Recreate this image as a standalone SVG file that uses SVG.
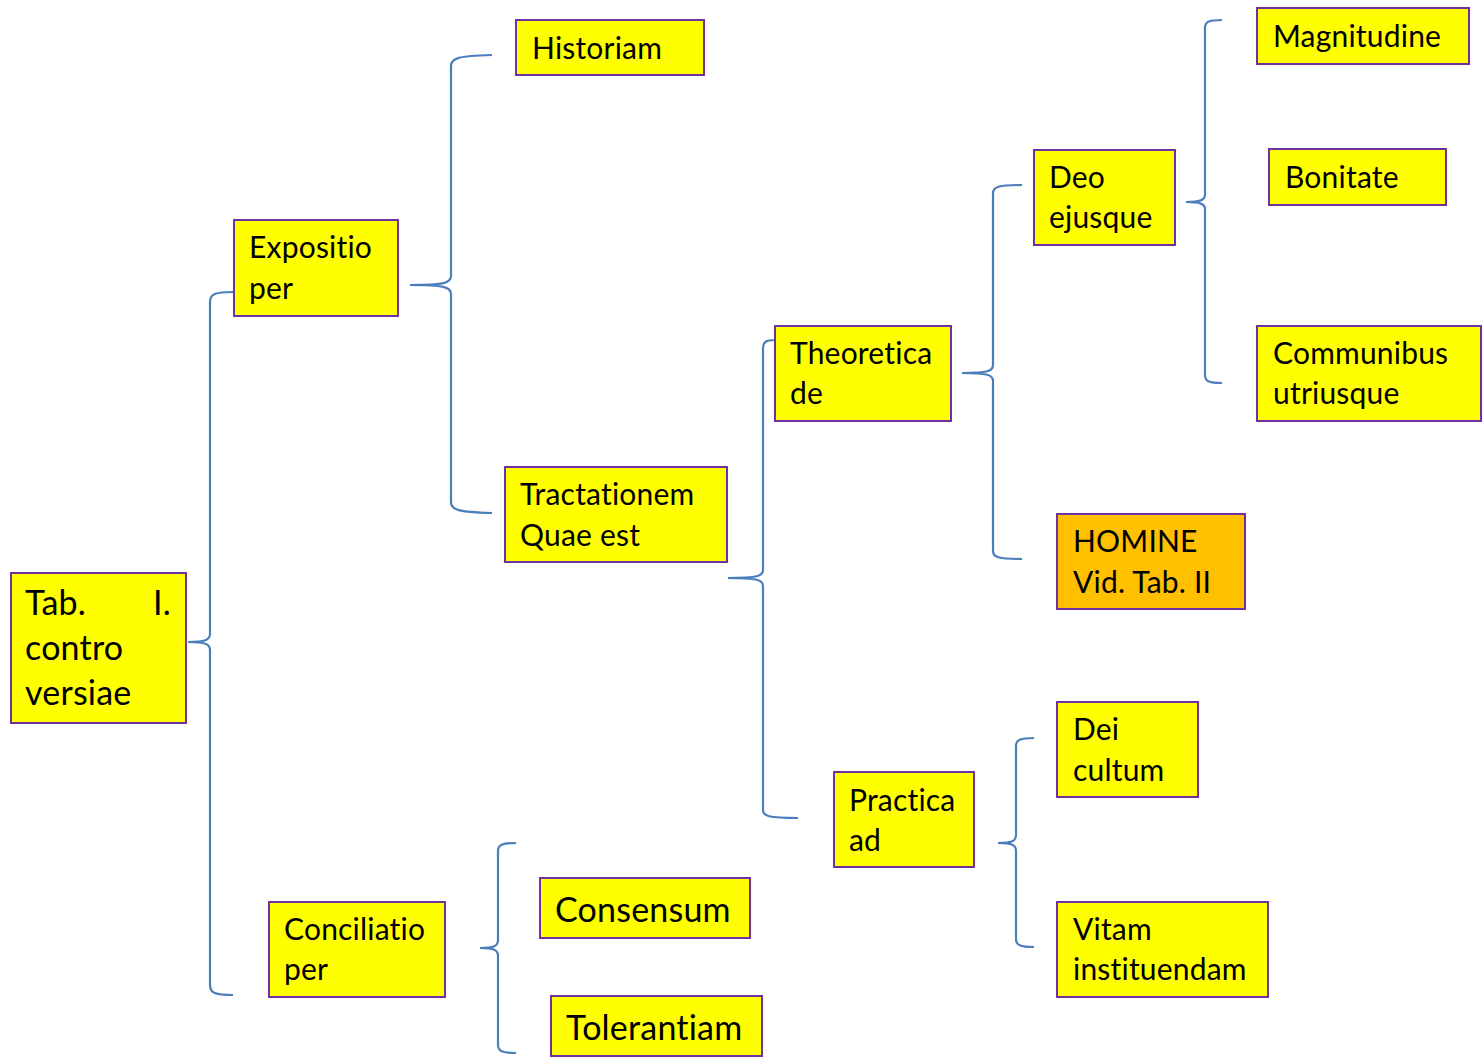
<svg xmlns="http://www.w3.org/2000/svg" width="1483" height="1064" viewBox="0 0 1483 1064">
<style>
.box{fill:#FFFF00;stroke:#7030A0;stroke-width:2}
.org{fill:#FFC000;stroke:#7030A0;stroke-width:2}
text{font-family:Lato,"Open Sans","Liberation Sans",sans-serif;font-size:30px;fill:#000;font-variant-ligatures:none;font-feature-settings:"liga" 0,"dlig" 0,"clig" 0;letter-spacing:0.2px}
.big{font-size:34px}
.brace{fill:none;stroke:#4A7EBB;stroke-width:2.2}
</style>
<rect width="1483" height="1064" fill="#fff"/>
<g id="connectors">
<path class="brace" d="M233,292 C215,292 210,294 210,302 L210,634 C210,640 205,642 188,642 C205,642 210,644 210,650 L210,985 C210,993 215,995 233,995"/>
<path class="brace" d="M492,55 C458,56 451,58 451,66 L451,276 C451,283 444,285 410,285 C444,285 451,287 451,294 L451,502 C451,510 458,512 492,513"/>
<path class="brace" d="M775,340 C766,340 763,342 763,348 L763,570 C763,576 758,578 728,578 C758,578 763,580 763,586 L763,810 C763,816 768,818 798,818"/>
<path class="brace" d="M1022,185 C998,185 993,187 993,193 L993,365 C993,371 988,373 962,373 C988,373 993,375 993,381 L993,551 C993,557 998,559 1022,559"/>
<path class="brace" d="M1222,20 C1208,20 1205,22 1205,28 L1205,195 C1205,200 1200,202 1186,202 C1200,202 1205,204 1205,209 L1205,375 C1205,381 1208,383 1222,383"/>
<path class="brace" d="M1034,738 C1020,738 1016,740 1016,746 L1016,835 C1016,841 1012,843 998,843 C1012,843 1016,845 1016,851 L1016,939 C1016,945 1020,947 1034,947"/>
<path class="brace" d="M516,843 C502,843 498,845 498,851 L498,940 C498,946 494,948 480,948 C494,948 498,950 498,956 L498,1045 C498,1051 502,1053 516,1053"/>
</g>
<g id="n-tab">
<rect class="box" x="11" y="573" width="175" height="150"/>
<text class="big" x="25" y="615">Tab.</text>
<text class="big" x="171" y="615" text-anchor="end">I.</text>
<text class="big" x="25" y="660">contro</text>
<text class="big" x="25" y="705">versiae</text>
</g>
<g id="n-expositio">
<rect class="box" x="234" y="220" width="164" height="96"/>
<text x="249" y="258">Expositio</text>
<text x="249" y="299">per</text>
</g>
<g id="n-historiam">
<rect class="box" x="516" y="20" width="188" height="55"/>
<text x="532" y="59">Historiam</text>
</g>
<g id="n-tractationem">
<rect class="box" x="505" y="467" width="222" height="95"/>
<text x="520" y="505">Tractationem</text>
<text x="520" y="546">Quae est</text>
</g>
<g id="n-theoretica">
<rect class="box" x="775" y="326" width="176" height="95"/>
<text x="790" y="364">Theoretica</text>
<text x="790" y="404">de</text>
</g>
<g id="n-deo">
<rect class="box" x="1034" y="150" width="141" height="95"/>
<text x="1049" y="188">Deo</text>
<text x="1049" y="228">ejusque</text>
</g>
<g id="n-magnitudine">
<rect class="box" x="1257" y="8" width="212" height="56"/>
<text x="1273" y="47">Magnitudine</text>
</g>
<g id="n-bonitate">
<rect class="box" x="1269" y="149" width="177" height="56"/>
<text x="1285" y="188">Bonitate</text>
</g>
<g id="n-communibus">
<rect class="box" x="1257" y="326" width="224" height="95"/>
<text x="1273" y="364">Communibus</text>
<text x="1273" y="404">utriusque</text>
</g>
<g id="n-homine">
<rect class="org" x="1057" y="514" width="188" height="95"/>
<text x="1073" y="552">HOMINE</text>
<text x="1073" y="593">Vid. Tab. II</text>
</g>
<g id="n-practica">
<rect class="box" x="834" y="772" width="140" height="95"/>
<text x="849" y="811">Practica</text>
<text x="849" y="851">ad</text>
</g>
<g id="n-dei">
<rect class="box" x="1057" y="702" width="141" height="95"/>
<text x="1073" y="740">Dei</text>
<text x="1073" y="781">cultum</text>
</g>
<g id="n-vitam">
<rect class="box" x="1057" y="902" width="211" height="95"/>
<text x="1073" y="940">Vitam</text>
<text x="1073" y="980">instituendam</text>
</g>
<g id="n-conciliatio">
<rect class="box" x="269" y="902" width="176" height="95"/>
<text x="284" y="940">Conciliatio</text>
<text x="284" y="980">per</text>
</g>
<g id="n-consensum">
<rect class="box" x="540" y="878" width="210" height="60"/>
<text class="big" x="555" y="922">Consensum</text>
</g>
<g id="n-tolerantiam">
<rect class="box" x="551" y="996" width="211" height="60"/>
<text class="big" x="566" y="1040">Tolerantiam</text>
</g>
</svg>
